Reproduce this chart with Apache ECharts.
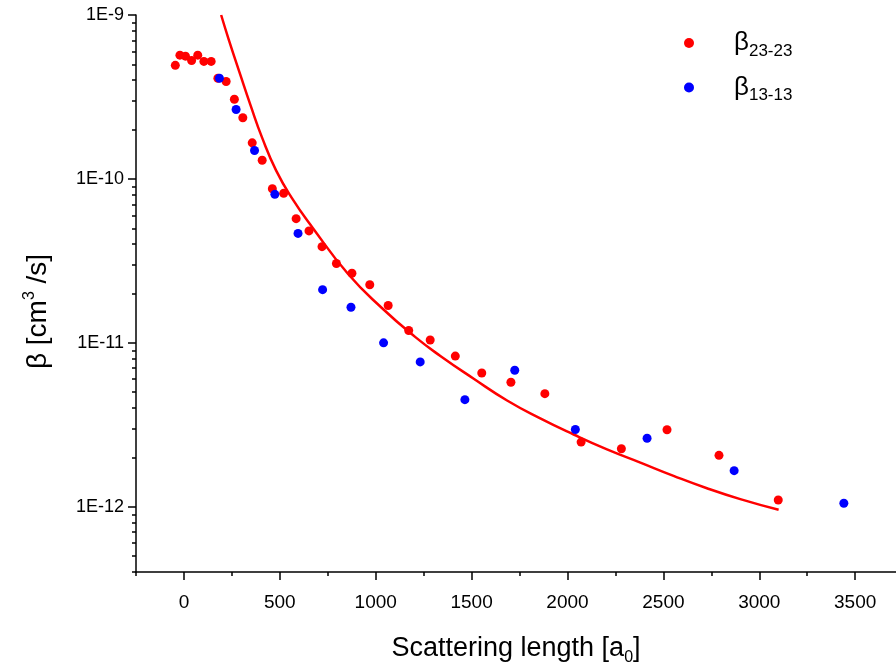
<!DOCTYPE html>
<html>
<head>
<meta charset="utf-8">
<script src="https://cdn.jsdelivr.net/npm/echarts@6/dist/echarts.min.js"></script>
<style>
html,body{margin:0;padding:0;background:#fff;}
#chart{width:896px;height:671px;}
</style>
</head>
<body>
<div id="chart"></div>
<script>
// ---- data ----
const beta2323_a = [-45, -21, 8, 40, 72, 104, 142, 177, 220, 263, 307, 356, 408, 461, 520, 585, 652, 720, 795, 876, 969, 1065, 1172, 1284, 1415, 1553, 1705, 1882, 2071, 2281, 2519, 2790, 3099];
const beta2323_v = [4.93e-10, 5.69e-10, 5.61e-10, 5.28e-10, 5.69e-10, 5.21e-10, 5.21e-10, 4.11e-10, 3.93e-10, 3.06e-10, 2.36e-10, 1.66e-10, 1.30e-10, 8.71e-11, 8.17e-11, 5.72e-11, 4.82e-11, 3.86e-11, 3.05e-11, 2.66e-11, 2.26e-11, 1.69e-11, 1.19e-11, 1.04e-11, 8.3e-12, 6.55e-12, 5.75e-12, 4.9e-12, 2.48e-12, 2.26e-12, 2.95e-12, 2.06e-12, 1.10e-12];
const beta1313_a = [185, 272, 368, 474, 595, 723, 871, 1041, 1232, 1465, 1725, 2041, 2415, 2869, 3441];
const beta1313_v = [4.11e-10, 2.65e-10, 1.49e-10, 8.05e-11, 4.65e-11, 2.11e-11, 1.65e-11, 1.00e-11, 7.65e-12, 4.5e-12, 6.8e-12, 2.96e-12, 2.62e-12, 1.66e-12, 1.05e-12];
const fit_a = [194, 234, 295, 347, 408, 481, 564, 669, 855, 1035, 1207, 1337, 1511, 1685, 1858, 2032, 2206, 2380, 2553, 2727, 2901, 3101];
const fit_v = [1.0e-9, 7.06e-10, 4.28e-10, 2.82e-10, 1.78e-10, 1.124e-10, 7.61e-11, 5.08e-11, 2.64e-11, 1.62e-11, 1.084e-11, 8.32e-12, 6.04e-12, 4.45e-12, 3.46e-12, 2.76e-12, 2.24e-12, 1.86e-12, 1.544e-12, 1.297e-12, 1.113e-12, 9.58e-13];
const xMajorTicks = [0, 500, 1000, 1500, 2000, 2500, 3000, 3500];
const xMinorTicks = [-250, 250, 750, 1250, 1750, 2250, 2750, 3250];
const yMajorTicks = [1e-12, 1e-11, 1e-10, 1e-9];
const yMantissas = [2, 3, 4, 5, 6, 7, 8, 9];
const yDecades = [-13, -12, -11, -10];
const seriesNames = ['β23-23', 'β13-13'];

const yMin = 4e-13, yMax = 1e-9;
const xMin = -250, xMax = 3713;
const yMinorTicks = [];
yDecades.forEach(d => yMantissas.forEach(m => {
  const v = parseFloat((m + 'e' + d));
  if (v >= yMin && v <= yMax) yMinorTicks.push(v);
}));

const zip = (a, b) => a.map((x, i) => [x, b[i]]);
const FONT = "'Liberation Sans', Arial, sans-serif";

const chart = echarts.init(document.getElementById('chart'), null, {renderer: 'canvas'});
const axisLine = {show: true, onZero: false, lineStyle: {color: '#000', width: 1.5}};
chart.setOption({
  animation: false,
  backgroundColor: '#fff',
  grid: {left: 136, right: 0, top: 15, bottom: 94, containLabel: false},
  legend: {
    orient: 'vertical',
    left: 679, top: 25,
    itemWidth: 10, itemHeight: 10, itemGap: 15,
    icon: 'circle',
    data: [
      {name: seriesNames[0], itemStyle: {color: '#ff0000'}},
      {name: seriesNames[1], itemStyle: {color: '#0000ff'}}
    ],
    formatter: n => '{b|β}{s|' + n.slice(1) + '}',
    textStyle: {
      fontFamily: FONT, color: '#000', padding: [0, 0, 0, 35],
      rich: {
        b: {fontSize: 26, fontFamily: FONT, color: '#000'},
        s: {fontSize: 17, fontFamily: FONT, color: '#000', padding: [16, 0, 0, 0]}
      }
    }
  },
  xAxis: [{
    type: 'value', min: xMin, max: xMax,
    axisLine: axisLine,
    axisTick: {show: true, customValues: xMajorTicks, length: 8, inside: false, lineStyle: {color: '#000', width: 1.5}},
    axisLabel: {customValues: xMajorTicks, fontFamily: FONT, fontSize: 19, color: '#000', margin: 21,
      formatter: v => String(v)},
    splitLine: {show: false},
    name: 'Scattering length [a{sub|0}]',
    nameLocation: 'middle', nameGap: 60,
    nameTextStyle: {fontFamily: FONT, fontSize: 27, color: '#000',
      rich: {sub: {fontSize: 16, fontFamily: FONT, color: '#000', padding: [18, 0, 0, 0]}}}
  }, {
    type: 'value', min: xMin, max: xMax, position: 'bottom',
    axisLine: {show: false, onZero: false},
    axisTick: {show: true, customValues: xMinorTicks, length: 4, lineStyle: {color: '#000', width: 1.5}},
    axisLabel: {show: false},
    splitLine: {show: false}
  }],
  yAxis: [{
    type: 'log', logBase: 10, min: yMin, max: yMax,
    axisLine: axisLine,
    axisTick: {show: true, customValues: yMajorTicks, length: 8, lineStyle: {color: '#000', width: 1.5}},
    axisLabel: {customValues: yMajorTicks, fontFamily: FONT, fontSize: 18, color: '#000', margin: 12,
      formatter: v => '1E' + Math.round(Math.log10(v))},
    splitLine: {show: false},
    name: '{t|β [cm}{sup|3}{t| /s]}',
    nameLocation: 'middle', nameRotate: 90, nameGap: 82,
    nameTextStyle: {fontFamily: FONT, fontSize: 28, color: '#000', padding: [0, 36, 0, 0],
      rich: {
        t: {fontSize: 28, fontFamily: FONT, color: '#000'},
        sup: {fontSize: 16, fontFamily: FONT, color: '#000', padding: [0, 0, 16, 0]}
      }}
  }, {
    type: 'log', logBase: 10, min: yMin, max: yMax, position: 'left',
    axisLine: {show: false, onZero: false},
    axisTick: {show: true, customValues: yMinorTicks, length: 4, lineStyle: {color: '#000', width: 1.5}},
    axisLabel: {show: false},
    splitLine: {show: false}
  }],
  series: [{
    name: 'fit', type: 'line', xAxisIndex: 0, yAxisIndex: 0,
    data: zip(fit_a, fit_v), smooth: true, showSymbol: false, symbol: 'none',
    lineStyle: {color: '#ff0000', width: 2.5}, clip: true, z: 2
  }, {
    name: seriesNames[0], type: 'scatter', xAxisIndex: 0, yAxisIndex: 0,
    data: zip(beta2323_a, beta2323_v), symbol: 'circle', symbolSize: 9,
    itemStyle: {color: '#ff0000', opacity: 1}, z: 3
  }, {
    name: seriesNames[1], type: 'scatter', xAxisIndex: 0, yAxisIndex: 0,
    data: zip(beta1313_a, beta1313_v), symbol: 'circle', symbolSize: 9,
    itemStyle: {color: '#0000ff', opacity: 1}, z: 4
  }]
});
</script>
</body>
</html>
